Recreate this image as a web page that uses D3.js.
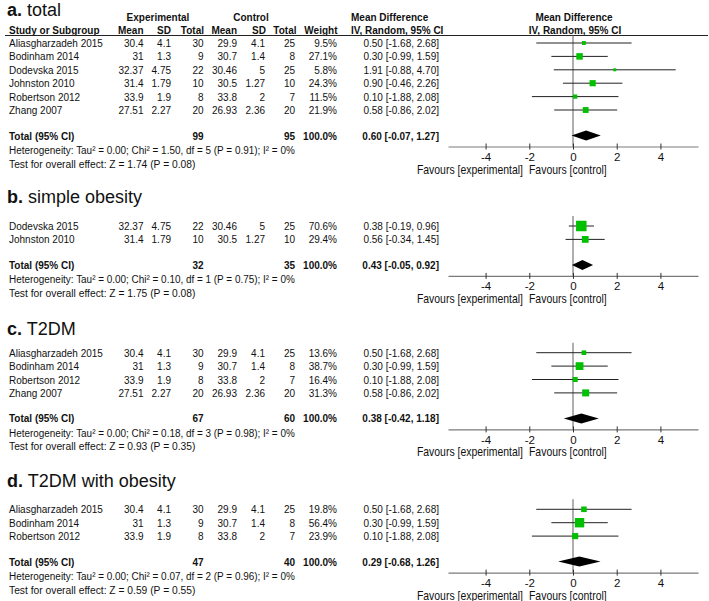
<!DOCTYPE html>
<html><head><meta charset="utf-8">
<script src="https://cdn.jsdelivr.net/npm/d3@7"></script>
<style>body{margin:0;background:#fff}svg{display:block}text{font-family:"Liberation Sans",Arial,sans-serif}</style>
</head><body><svg id="c" width="709" height="601"></svg>
<script>
// ---- data ----
// [study, expMean, expSD, expN, ctlMean, ctlSD, ctlN, weight%, MD, lower, upper]
const studiesTotal = [
  ["Aliasgharzadeh 2015","30.4","4.1",30,"29.9","4.1",25,9.5,0.50,-1.68,2.68],
  ["Bodinham 2014","31","1.3",9,"30.7","1.4",8,27.1,0.30,-0.99,1.59],
  ["Dodevska 2015","32.37","4.75",22,"30.46","5",25,5.8,1.91,-0.88,4.70],
  ["Johnston 2010","31.4","1.79",10,"30.5","1.27",10,24.3,0.90,-0.46,2.26],
  ["Robertson 2012","33.9","1.9",8,"33.8","2",7,11.5,0.10,-1.88,2.08],
  ["Zhang 2007","27.51","2.27",20,"26.93","2.36",20,21.9,0.58,-0.86,2.02]
];
const studiesObesity = [
  ["Dodevska 2015","32.37","4.75",22,"30.46","5",25,70.6,0.38,-0.19,0.96],
  ["Johnston 2010","31.4","1.79",10,"30.5","1.27",10,29.4,0.56,-0.34,1.45]
];
const studiesT2DM = [
  ["Aliasgharzadeh 2015","30.4","4.1",30,"29.9","4.1",25,13.6,0.50,-1.68,2.68],
  ["Bodinham 2014","31","1.3",9,"30.7","1.4",8,38.7,0.30,-0.99,1.59],
  ["Robertson 2012","33.9","1.9",8,"33.8","2",7,16.4,0.10,-1.88,2.08],
  ["Zhang 2007","27.51","2.27",20,"26.93","2.36",20,31.3,0.58,-0.86,2.02]
];
const studiesT2DMObesity = [
  ["Aliasgharzadeh 2015","30.4","4.1",30,"29.9","4.1",25,19.8,0.50,-1.68,2.68],
  ["Bodinham 2014","31","1.3",9,"30.7","1.4",8,56.4,0.30,-0.99,1.59],
  ["Robertson 2012","33.9","1.9",8,"33.8","2",7,23.9,0.10,-1.88,2.08]
];
// [expTotal, ctlTotal, MD, lower, upper]
const pooled = [
  [99,95,0.60,-0.07,1.27],
  [32,35,0.43,-0.05,0.92],
  [67,60,0.38,-0.42,1.18],
  [47,40,0.29,-0.68,1.26]
];
const panelLetters = ["a.","b.","c.","d."];
const panelNames = ["total","simple obesity","T2DM","T2DM with obesity"];
const heterogeneity = [
  "Heterogeneity: Tau² = 0.00; Chi² = 1.50, df = 5 (P = 0.91); I² = 0%",
  "Heterogeneity: Tau² = 0.00; Chi² = 0.10, df = 1 (P = 0.75); I² = 0%",
  "Heterogeneity: Tau² = 0.00; Chi² = 0.18, df = 3 (P = 0.98); I² = 0%",
  "Heterogeneity: Tau² = 0.00; Chi² = 0.07, df = 2 (P = 0.96); I² = 0%"
];
const overallEffect = [
  "Test for overall effect: Z = 1.74 (P = 0.08)",
  "Test for overall effect: Z = 1.75 (P = 0.08)",
  "Test for overall effect: Z = 0.93 (P = 0.35)",
  "Test for overall effect: Z = 0.59 (P = 0.55)"
];
const axisTicks = [-4,-2,0,2,4];
const axisDomain = [-5.72,5.72];
const favourLabels = ["Favours [experimental]","Favours [control]"];

// ---- layout ----
const panels = [studiesTotal, studiesObesity, studiesT2DM, studiesT2DMObesity];
const titleY = [16, 203, 335, 487];
const firstRowY = [43, 226, 352.7, 509.3];
const rowStep = 13.4;
const svg = d3.select("#c");
const x = d3.scaleLinear().domain(axisDomain).range([448, 698]);
const box = d3.scaleSqrt().domain([0,100]).range([0,12.5]);
const green = "#00c000";
const fs = 11.5, SX = 0.87;
const cols = [
  {x:9, a:"start"},{x:143.5,a:"end"},{x:171,a:"end"},{x:203.5,a:"end"},
  {x:237,a:"end"},{x:265,a:"end"},{x:295,a:"end"},{x:337,a:"end"}
];
const f2 = v => v.toFixed(2);
const ciText = d => `${f2(d[0])} [${f2(d[1])}, ${f2(d[2])}]`;

function txt(g, xx, yy, s, anchor, weight, size, sx){
  return g.append("text").attr("transform",`translate(${xx},${yy}) scale(${sx||SX},1)`)
    .attr("text-anchor",anchor||"start")
    .attr("font-size",size||fs).attr("font-weight",weight||"normal").attr("fill","#111").text(s);
}

// header for panel a
const hdr = svg.append("g");
txt(hdr,158,21,"Experimental","middle","bold");
txt(hdr,251,21,"Control","middle","bold");
txt(hdr,351,21,"Mean Difference","start","bold");
txt(hdr,574,21,"Mean Difference","middle","bold");
const h2 = [["Study or Subgroup",9,"start"],["Mean",143.5,"end"],["SD",171,"end"],["Total",204,"end"],
  ["Mean",237,"end"],["SD",266,"end"],["Total",296.5,"end"],["Weight",337.5,"end"],
  ["IV, Random, 95% CI",351,"start"],["IV, Random, 95% CI",575,"middle"]];
h2.forEach(h => txt(hdr,h[1],33.5,h[0],h[2],"bold"));
hdr.append("line").attr("x1",5).attr("x2",708).attr("y1",35.5).attr("y2",35.5).attr("stroke","#222").attr("stroke-width",1.2);

panels.forEach((rows,pi) => {
  const g = svg.append("g");
  const r0 = firstRowY[pi];
  const yRow = i => r0 + i*rowStep;
  const lastY = yRow(rows.length-1);
  const totY = lastY + 25.5;
  const axY = totY + 11;
  // title
  const t = g.append("text").attr("x",7).attr("y",titleY[pi]).attr("font-size",18).attr("fill","#111");
  t.append("tspan").attr("font-weight","bold").text(panelLetters[pi]);
  t.append("tspan").text(" "+panelNames[pi]);
  // rows
  rows.forEach((r,i) => {
    const yb = yRow(i)+4;
    for(let c=0;c<8;c++){
      const v = c===7 ? r[7].toFixed(1)+"%" : r[c];
      txt(g, cols[c].x, yb, v, cols[c].a);
    }
    txt(g, 439, yb, ciText([r[8],r[9],r[10]]), "end");
  });
  const p = pooled[pi];
  txt(g, 9, totY+4, "Total (95% CI)", "start", "bold");
  txt(g, 203.5, totY+4, p[0], "end", "bold");
  txt(g, 295, totY+4, p[1], "end", "bold");
  txt(g, 337, totY+4, "100.0%", "end", "bold");
  txt(g, 439, totY+4, ciText([p[2],p[3],p[4]]), "end", "bold");
  txt(g, 9, totY+18.5, heterogeneity[pi], "start", "normal", 11.3, 0.88);
  txt(g, 9, totY+32, overallEffect[pi], "start", "normal", 11.3, 0.91);
  // forest
  const topY = pi===0 ? 35.5 : r0-10;
  g.append("line").attr("x1",x(0)).attr("x2",x(0)).attr("y1",topY).attr("y2",axY).attr("stroke","#7a7a7a").attr("stroke-width",1.2);
  rows.forEach((r,i) => {
    const yy = yRow(i);
    g.append("line").attr("x1",x(r[9])).attr("x2",x(r[10])).attr("y1",yy).attr("y2",yy).attr("stroke","#222").attr("stroke-width",1);
    const s = box(r[7]);
    g.append("rect").attr("x",x(r[8])-s/2).attr("y",yy-s/2).attr("width",s).attr("height",s).attr("fill",green);
  });
  const dh = 5;
  g.append("path").attr("d",`M${x(p[3])},${totY}L${x(p[2])},${totY-dh}L${x(p[4])},${totY}L${x(p[2])},${totY+dh}Z`).attr("fill","#000");
  // axis
  const ax = g.append("g").attr("transform",`translate(0,${axY})`)
    .call(d3.axisBottom(x).tickValues(axisTicks).tickSize(3).tickSizeOuter(0).tickFormat(d => String(d)));
  ax.select(".domain").attr("stroke","#7a7a7a").attr("stroke-width",1.2);
  ax.selectAll(".tick line").attr("y1",-3).attr("y2",3).attr("stroke","#333");
  ax.selectAll(".tick text").attr("y",6).attr("dy","0.71em").attr("font-size",11.5).attr("font-family","Liberation Sans, Arial, sans-serif").attr("fill","#111");
  txt(g, 523, axY+27, favourLabels[0], "end", "normal", 12);
  txt(g, 529, axY+27, favourLabels[1], "start", "normal", 12);
});
</script></body></html>
